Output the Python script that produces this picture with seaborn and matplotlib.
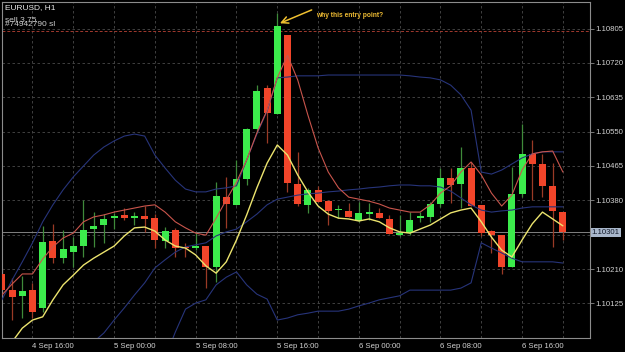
import numpy as np
import pandas as pd
import matplotlib
matplotlib.use("Agg")
import matplotlib.pyplot as plt
import seaborn as sns
from matplotlib.transforms import blended_transform_factory

nan = np.nan

# hours after 4 Sep 16:00 (H1 candles)
hours = list(range(-3, 53))

opens = [1.10198, 1.10158, 1.10144, 1.10158, 1.10114, 1.10280, 1.10237, 1.10252,
         1.10267, 1.10309, 1.10319, 1.10336, 1.10344, 1.10336, 1.10341, 1.10336,
         1.10280, 1.10307, 1.10263, 1.10262, 1.10267, 1.10215, 1.10388, 1.10369,
         1.10433, 1.10556, 1.10658, 1.10594, 1.10789, 1.10421, 1.10369, 1.10406,
         1.10378, 1.10355, 1.10354, 1.10329, 1.10346, 1.10349, 1.10334, 1.10294,
         1.10299, 1.10336, 1.10339, 1.10371, 1.10435, 1.10421, 1.10460, 1.10369,
         1.10304, 1.10294, 1.10215, 1.10396, 1.10495, 1.10470, 1.10416, 1.10351]
highs = [1.10213, 1.10188, 1.10193, 1.10176, 1.10317, 1.10322, 1.10307, 1.10289,
         1.10381, 1.10351, 1.10346, 1.10349, 1.10361, 1.10351, 1.10366, 1.10346,
         1.10314, 1.10312, 1.10275, 1.10299, 1.10267, 1.10425, 1.10438, 1.10480,
         1.10559, 1.10665, 1.10665, 1.10843, 1.10789, 1.10500, 1.10411, 1.10416,
         1.10381, 1.10369, 1.10374, 1.10376, 1.10374, 1.10361, 1.10344, 1.10344,
         1.10351, 1.10351, 1.10376, 1.10460, 1.10460, 1.10512, 1.10475, 1.10369,
         1.10307, 1.10294, 1.10463, 1.10569, 1.10529, 1.10495, 1.10472, 1.10351]
lows = [1.10144, 1.10084, 1.10089, 1.10089, 1.10104, 1.10225, 1.10225, 1.10215,
        1.10240, 1.10265, 1.10275, 1.10309, 1.10331, 1.10319, 1.10302, 1.10262,
        1.10262, 1.10240, 1.10240, 1.10257, 1.10163, 1.10178, 1.10312, 1.10369,
        1.10418, 1.10547, 1.10522, 1.10594, 1.10401, 1.10366, 1.10349, 1.10376,
        1.10319, 1.10336, 1.10339, 1.10327, 1.10331, 1.10336, 1.10297, 1.10292,
        1.10294, 1.10327, 1.10327, 1.10364, 1.10374, 1.10361, 1.10366, 1.10292,
        1.10250, 1.10198, 1.10215, 1.10388, 1.10381, 1.10388, 1.10265, 1.10282]
closes = [1.10158, 1.10141, 1.10156, 1.10104, 1.10277, 1.10237, 1.10260, 1.10267,
          1.10307, 1.10317, 1.10334, 1.10341, 1.10336, 1.10341, 1.10334, 1.10282,
          1.10304, 1.10262, 1.10261, 1.10267, 1.10215, 1.10391, 1.10371, 1.10433,
          1.10556, 1.10650, 1.10596, 1.10811, 1.10423, 1.10371, 1.10406, 1.10376,
          1.10354, 1.10356, 1.10339, 1.10349, 1.10351, 1.10336, 1.10297, 1.10299,
          1.10331, 1.10341, 1.10371, 1.10435, 1.10418, 1.10460, 1.10366, 1.10299,
          1.10294, 1.10215, 1.10396, 1.10495, 1.10470, 1.10416, 1.10354, 1.10301]

bb_upper = [1.10134, 1.10183, 1.10228, 1.10275, 1.10327, 1.10369, 1.10406, 1.10438,
            1.10465, 1.10492, 1.10512, 1.10527, 1.10539, 1.10544, 1.10539, 1.10492,
            1.10460, 1.10430, 1.10408, 1.10401, 1.10401, 1.10408, 1.10411, 1.10416,
            1.10480, 1.10544, 1.10601, 1.10683, 1.10685, 1.10688, 1.10688, 1.10688,
            1.10690, 1.10690, 1.10690, 1.10690, 1.10690, 1.10690, 1.10690, 1.10690,
            1.10688, 1.10685, 1.10683, 1.10678, 1.10665, 1.10641, 1.10603, 1.10450,
            1.10445, 1.10455, 1.10470, 1.10485, 1.10495, 1.10500, 1.10500, 1.10500]
bb_middle = [nan, nan, nan, nan, nan, nan, nan, nan,
             nan, 1.10030, 1.10052, 1.10084, 1.10114, 1.10146, 1.10176, 1.10213,
             1.10233, 1.10252, 1.10265, 1.10270, 1.10275, 1.10292, 1.10302, 1.10309,
             1.10327, 1.10346, 1.10369, 1.10383, 1.10388, 1.10393, 1.10396, 1.10398,
             1.10401, 1.10403, 1.10406, 1.10408, 1.10411, 1.10413, 1.10416, 1.10418,
             1.10418, 1.10416, 1.10416, 1.10413, 1.10403, 1.10386, 1.10369, 1.10356,
             1.10351, 1.10354, 1.10356, 1.10361, 1.10364, 1.10364, 1.10364, 1.10364]
bb_lower = [nan, nan, nan, nan, nan, nan, nan, nan,
            nan, nan, nan, nan, nan, nan, nan, nan,
            1.09990, 1.10054, 1.10111, 1.10126, 1.10134, 1.10171, 1.10190, 1.10203,
            1.10171, 1.10148, 1.10136, 1.10084, 1.10089, 1.10097, 1.10101, 1.10106,
            1.10106, 1.10106, 1.10111, 1.10119, 1.10126, 1.10134, 1.10139, 1.10144,
            1.10158, 1.10158, 1.10158, 1.10158, 1.10158, 1.10163, 1.10176, 1.10275,
            1.10262, 1.10250, 1.10237, 1.10228, 1.10228, 1.10228, 1.10228, 1.10225]
red_line = [1.10146, 1.10173, 1.10198, 1.10198, 1.10235, 1.10265, 1.10287, 1.10299,
            1.10327, 1.10339, 1.10344, 1.10351, 1.10356, 1.10361, 1.10366, 1.10369,
            1.10351, 1.10327, 1.10312, 1.10299, 1.10294, 1.10336, 1.10381, 1.10425,
            1.10480, 1.10547, 1.10603, 1.10683, 1.10739, 1.10678, 1.10591, 1.10510,
            1.10450, 1.10411, 1.10388, 1.10383, 1.10378, 1.10371, 1.10361, 1.10356,
            1.10351, 1.10351, 1.10369, 1.10398, 1.10416, 1.10450, 1.10475, 1.10443,
            1.10398, 1.10366, 1.10393, 1.10455, 1.10495, 1.10500, 1.10502, 1.10450]
yellow_line = [1.10010, 1.10030, 1.10064, 1.10084, 1.10092, 1.10134, 1.10171, 1.10195,
               1.10220, 1.10237, 1.10252, 1.10267, 1.10292, 1.10312, 1.10314, 1.10304,
               1.10282, 1.10267, 1.10262, 1.10245, 1.10218, 1.10200, 1.10228, 1.10282,
               1.10344, 1.10411, 1.10472, 1.10517, 1.10492, 1.10443, 1.10401, 1.10366,
               1.10346, 1.10336, 1.10334, 1.10329, 1.10334, 1.10327, 1.10312, 1.10302,
               1.10299, 1.10309, 1.10319, 1.10334, 1.10349, 1.10356, 1.10361, 1.10327,
               1.10289, 1.10257, 1.10240, 1.10282, 1.10322, 1.10351, 1.10334, 1.10317]

y_ticks = [1.10125, 1.10210, 1.10295, 1.10380, 1.10465, 1.10550, 1.10635, 1.10720, 1.10805]
y_tick_labels = ["1.10125", "1.10210", "", "1.10380", "1.10465", "1.10550", "1.10635", "1.10720", "1.10805"]
x_ticks = [0, 8, 16, 24, 32, 40, 48]
x_tick_labels = ["4 Sep 16:00", "5 Sep 00:00", "5 Sep 08:00", "5 Sep 16:00",
                 "6 Sep 00:00", "6 Sep 08:00", "6 Sep 16:00"]
bid_price = 1.10301
bid_label = "1.10301"
sl_price = 1.10798
symbol_title = "EURUSD, H1"
order_label_1 = "sell 3.75"
order_label_2 = "#74942790 sl"
note_text = "why this entry point?"

# ---------------------------------------------------------------- styling
sns.set_theme(style="dark", rc={"axes.facecolor": "black", "figure.facecolor": "black"})
plt.rcParams["font.family"] = ["Liberation Sans", "DejaVu Sans"]

BULL, BEAR = "#3ceb4c", "#f2452a"
WICK_UP, WICK_DOWN = "#3f8a3a", "#9a3a26"
GRID = "#4a4a4a"
TXT = "#d2d2d2"

fig = plt.figure(figsize=(6.25, 3.52), dpi=100)
ax = fig.add_axes([2 / 625, 14 / 352, 588 / 625, 336 / 352])
ax.set_facecolor("black")

df = pd.DataFrame({"hour": hours, "open": opens, "high": highs, "low": lows, "close": closes})
up = df["close"] >= df["open"]
body_bottom = np.minimum(df["open"], df["close"])
body_height = np.maximum((df["close"] - df["open"]).abs(), 0.00003)

ax.vlines(df["hour"][up], df["low"][up], df["high"][up], color=WICK_UP, lw=0.9, zorder=2)
ax.vlines(df["hour"][~up], df["low"][~up], df["high"][~up], color=WICK_DOWN, lw=0.9, zorder=2)
ax.bar(df["hour"][up], body_height[up], bottom=body_bottom[up], width=0.68,
       color=BULL, linewidth=0, zorder=3)
ax.bar(df["hour"][~up], body_height[~up], bottom=body_bottom[~up], width=0.68,
       color=BEAR, linewidth=0, zorder=3)

# indicator lines
bands = pd.DataFrame({"hour": hours, "upper": bb_upper, "middle": bb_middle,
                      "lower": bb_lower}).melt("hour", var_name="line", value_name="price")
sns.lineplot(data=bands, x="hour", y="price", hue="line",
             palette={"upper": "#27347a", "middle": "#27347a", "lower": "#27347a"},
             estimator=None, sort=False, legend=False, lw=0.8, ax=ax, zorder=4)
sns.lineplot(x=hours, y=red_line, color="#c9554c", estimator=None, sort=False,
             lw=0.8, ax=ax, zorder=4)
sns.lineplot(x=hours, y=yellow_line, color="#ece46e", estimator=None, sort=False,
             lw=1.0, ax=ax, zorder=4)

# horizontal lines
ax.axhline(bid_price, color="#808080", lw=0.7, zorder=1.5)
ax.axhline(sl_price, color="#a0392e", lw=0.7, ls=(0, (3, 2)), zorder=1.6)

# axes
ax.set_xlim(-2.99, 54.66)
ax.set_ylim(1.100396, 1.108706)
ax.set_xlabel("")
ax.set_ylabel("")
ax.yaxis.tick_right()
ax.set_yticks(y_ticks)
ax.set_yticklabels(y_tick_labels)
ax.set_xticks(x_ticks)
ax.set_xticklabels(x_tick_labels, ha="left")
ax.set_xticks(list(range(0, 53, 4)), minor=True)
ax.grid(True, which="major", axis="y", color=GRID, lw=0.6, ls=(0, (3, 3)), zorder=0)
ax.grid(True, which="both", axis="x", color=GRID, lw=0.6, ls=(0, (3, 3)), zorder=0)
ax.set_axisbelow(True)
ax.tick_params(axis="both", which="major", colors=TXT, labelsize=5.6, length=3,
               width=0.6, pad=0.5)
ax.tick_params(axis="x", which="minor", length=0)
ax.tick_params(axis="both", which="major", color="#8a8a8a")
for s in ax.spines.values():
    s.set_visible(True)
    s.set_color("#8c8c8c")
    s.set_linewidth(0.8)

# bid price label
trans = blended_transform_factory(ax.transAxes, ax.transData)
ax.text(1.003, bid_price, bid_label, transform=trans, ha="left", va="center",
        fontsize=5.6, color="#121a2a", clip_on=False,
        bbox=dict(boxstyle="square,pad=0.15", fc="#a9b7cb", ec="none"))

# top-left texts
fig.text(5 / 625, 1 - 8 / 352, symbol_title, color="#e8e8e8", fontsize=6.0, va="center")
fig.text(5 / 625, 1 - 20 / 352, order_label_1, color="#cccccc", fontsize=6.0, va="center")
fig.text(5 / 625, 1 - 25 / 352, order_label_2, color="#cccccc", fontsize=6.0, va="center")

# annotation
ax.annotate("", xy=(24.26, 1.10818), xytext=(27.37, 1.10851),
            arrowprops=dict(arrowstyle="->", color="#f0c030", lw=1.1,
                            shrinkA=0, shrinkB=0), zorder=6)
ax.text(27.75, 1.10838, note_text, color="#eebb33", fontsize=4.8,
        fontweight="bold", va="center", ha="left", zorder=6)

fig.savefig("out.png", dpi=100, facecolor="black")
